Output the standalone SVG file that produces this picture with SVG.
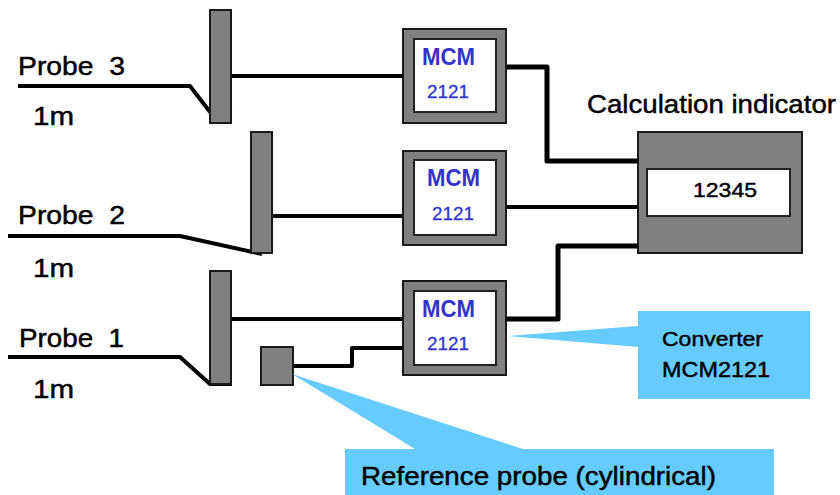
<svg xmlns="http://www.w3.org/2000/svg" width="840" height="495" viewBox="0 0 840 495">
<style>
text{font-family:"Liberation Sans",Arial,sans-serif;fill:#000;stroke:#000;stroke-width:.45px;white-space:pre}
.t{font-size:25px}
.s{font-size:22px}
.m{font-size:23px;fill:#3333cc;stroke:#3333cc;font-weight:bold;stroke-width:0}
.n{font-size:18px;fill:#3333cc;stroke:#3333cc;stroke-width:.3px}
.g{fill:#808080;stroke:#1a1a1a;stroke-width:2}
.w{fill:#fff;stroke:#222;stroke-width:2}
.c{fill:none;stroke:#000;stroke-width:4;stroke-linejoin:round}
.b{fill:#66ccff}
</style>
<rect width="840" height="495" fill="#fff"/>
<g id="connectors">
<path class="c" d="M18 86H190L210 112L232 113"/>
<path class="c" d="M8 236H180L262 254"/>
<path class="c" d="M8 357H180L210 384H232"/>
<path class="c" d="M231 76H403"/>
<path class="c" d="M272 216H403"/>
<path class="c" d="M231 319H403"/>
<path class="c" d="M292 366H352V348H403"/>
<path class="c" style="stroke-width:5" d="M506 67H547V161H638"/>
<path class="c" d="M506 207H638"/>
<path class="c" style="stroke-width:5" d="M506 319H558V246H638"/>
</g>
<g id="probe3"><rect class="g" x="210" y="10" width="21" height="113"/>
<text class="t" x="18" y="75" textLength="107" lengthAdjust="spacingAndGlyphs">Probe  3</text><text class="t" x="33" y="125" textLength="41" lengthAdjust="spacingAndGlyphs">1m</text></g>
<g id="probe2"><rect class="g" x="251" y="132" width="21" height="121"/>
<text class="t" x="18" y="224" textLength="107" lengthAdjust="spacingAndGlyphs">Probe  2</text><text class="t" x="33" y="277" textLength="41" lengthAdjust="spacingAndGlyphs">1m</text></g>
<g id="probe1"><rect class="g" x="210" y="271" width="21" height="113"/>
<text class="t" x="19" y="347" textLength="105" lengthAdjust="spacingAndGlyphs">Probe  1</text><text class="t" x="33" y="398" textLength="41" lengthAdjust="spacingAndGlyphs">1m</text></g>
<g id="reference-probe"><rect class="g" x="261" y="347" width="32" height="38"/></g>
<g id="mcm3"><rect class="g" x="403" y="29" width="103" height="94"/><rect class="w" x="414" y="39" width="82" height="73"/>
<text class="m" x="422" y="65" textLength="53" lengthAdjust="spacingAndGlyphs">MCM</text><text class="n" x="427" y="98" textLength="42" lengthAdjust="spacingAndGlyphs">2121</text></g>
<g id="mcm2"><rect class="g" x="403" y="151" width="103" height="94"/><rect class="w" x="414" y="160" width="82" height="75"/>
<text class="m" x="427" y="186" textLength="53" lengthAdjust="spacingAndGlyphs">MCM</text><text class="n" x="432" y="220" textLength="42" lengthAdjust="spacingAndGlyphs">2121</text></g>
<g id="mcm1"><rect class="g" x="403" y="281" width="103" height="94"/><rect class="w" x="414" y="291" width="82" height="74"/>
<text class="m" x="422" y="317" textLength="53" lengthAdjust="spacingAndGlyphs">MCM</text><text class="n" x="427" y="350" textLength="42" lengthAdjust="spacingAndGlyphs">2121</text></g>
<g id="indicator"><rect class="g" x="638" y="132" width="164" height="121"/><rect class="w" x="647" y="169" width="143" height="47"/>
<text class="s" x="693" y="197" textLength="64" lengthAdjust="spacingAndGlyphs" style="font-size:21px">12345</text>
<text class="t" x="587" y="113" textLength="249" lengthAdjust="spacingAndGlyphs">Calculation indicator</text></g>
<g id="converter-callout"><path class="b" d="M508 336L638 326V311H810V399H638V347Z"/>
<text class="s" x="662" y="346" textLength="101" lengthAdjust="spacingAndGlyphs" style="font-size:21px">Converter</text>
<text class="s" x="662" y="377" textLength="108" lengthAdjust="spacingAndGlyphs">MCM2121</text></g>
<g id="reference-callout"><path class="b" d="M292 374L415 449H345V495H774V449H523Z"/>
<text class="t" x="361" y="485" textLength="355" lengthAdjust="spacingAndGlyphs">Reference probe (cylindrical)</text></g>
</svg>
